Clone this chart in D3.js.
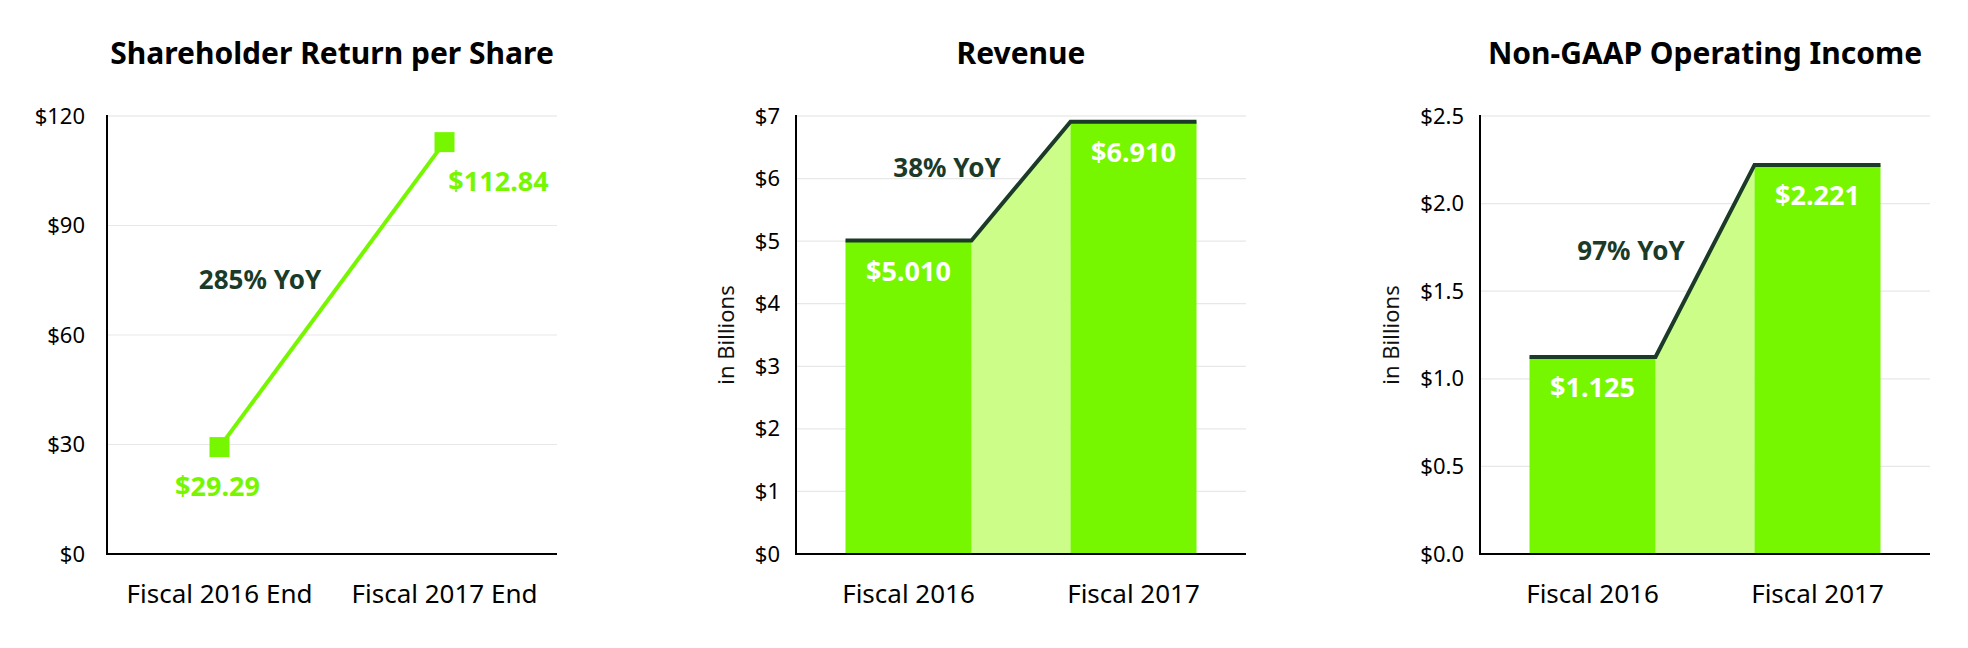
<!DOCTYPE html>
<html>
<head>
<meta charset="utf-8">
<script src="https://cdn.jsdelivr.net/npm/d3@7"></script>
<style>
  html, body { margin: 0; padding: 0; background: #fff; }
  svg { display: block; }
  text { font-family: "Noto Sans", "Open Sans", sans-serif; }
</style>
</head>
<body>
<svg id="chart" width="1968" height="648"></svg>
<script>
// ---- Data ----
const shareCategories = ["Fiscal 2016 End", "Fiscal 2017 End"];
const shareValues = [29.29, 112.84];
const shareTicks = [0, 30, 60, 90, 120];
const shareLabels = ["$29.29", "$112.84"];
const shareYoY = "285% YoY";

const revenueCategories = ["Fiscal 2016", "Fiscal 2017"];
const revenueValues = [5.010, 6.910];
const revenueTicks = [0, 1, 2, 3, 4, 5, 6, 7];
const revenueLabels = ["$5.010", "$6.910"];
const revenueYoY = "38% YoY";

const incomeCategories = ["Fiscal 2016", "Fiscal 2017"];
const incomeValues = [1.125, 2.221];
const incomeTicks = [0, 0.5, 1.0, 1.5, 2.0, 2.5];
const incomeLabels = ["$1.125", "$2.221"];
const incomeYoY = "97% YoY";

const titles = ["Shareholder Return per Share", "Revenue", "Non-GAAP Operating Income"];

// ---- Style ----
const GREEN = "#76f700";
const LIGHT = "#ccfd88";
const DARK = "#1b3a28";
const GRID = "#e8e8e8";

const svg = d3.select("#chart");
const plotTop = 116, plotBottom = 554;

function panel(opts) {
  const g = svg.append("g");
  const x = d3.scaleBand().domain(opts.categories).range([opts.x0, opts.x1])
    .paddingInner(0.44).paddingOuter(0.22);
  const y = d3.scaleLinear().domain([0, opts.max]).range([plotBottom, plotTop]);

  // grid
  g.append("g").selectAll("line").data(opts.ticks.slice(1)).join("line")
    .attr("x1", opts.x0).attr("x2", opts.x1)
    .attr("y1", d => y(d)).attr("y2", d => y(d))
    .attr("stroke", (d, i, a) => i === a.length - 1 ? "#f0f0f0" : GRID)
    .attr("stroke-width", (d, i, a) => i === a.length - 1 ? 2 : 1.2);

  // y axis
  const yAxis = d3.axisLeft(y).tickValues(opts.ticks).tickFormat(opts.fmt).tickSize(0).tickPadding(opts.tickPad);
  const ya = g.append("g").attr("transform", `translate(${opts.x0},0)`).call(yAxis);
  ya.select(".domain").remove();
  ya.selectAll("text").attr("font-size", 22).attr("fill", "#000").attr("font-family", '"Noto Sans", sans-serif');

  // x axis labels
  const xAxis = d3.axisBottom(x).tickSize(0).tickPadding(31);
  const xa = g.append("g").attr("transform", `translate(0,${plotBottom})`).call(xAxis);
  xa.select(".domain").remove();
  xa.selectAll("text").attr("font-size", 26).attr("fill", "#000").attr("font-family", '"Noto Sans", sans-serif');

  opts.draw(g, x, y);

  // axis lines
  g.append("line").attr("x1", opts.x0).attr("x2", opts.x0).attr("y1", plotTop - 1).attr("y2", plotBottom + 1)
    .attr("stroke", "#000").attr("stroke-width", 2);
  g.append("line").attr("x1", opts.x0 - 1).attr("x2", opts.x1).attr("y1", plotBottom).attr("y2", plotBottom)
    .attr("stroke", "#000").attr("stroke-width", 2);

  // title
  g.append("text").attr("x", (opts.x0 + opts.x1) / 2).attr("y", 64)
    .attr("text-anchor", "middle").attr("font-size", 30).attr("font-weight", "bold")
    .attr("fill", "#000").text(opts.title);

  if (opts.yTitle) {
    g.append("text").attr("transform", `translate(${opts.yTitleX},${(plotTop + plotBottom) / 2}) rotate(-90)`)
      .attr("text-anchor", "middle").attr("font-size", 22).attr("fill", "#111").text(opts.yTitle);
  }
  return { x, y };
}

// Panel 1: line
panel({
  categories: shareCategories, ticks: shareTicks, max: 120,
  x0: 107, x1: 557, tickPad: 22, title: titles[0],
  fmt: d => "$" + d,
  draw: (g, x, y) => {
    const cx = d => x(d) + x.bandwidth() / 2;
    const pts = shareCategories.map((c, i) => [cx(c), y(shareValues[i])]);
    g.append("path").attr("d", d3.line()(pts)).attr("fill", "none")
      .attr("stroke", GREEN).attr("stroke-width", 4);
    g.selectAll("rect.m").data(pts).join("rect").attr("class", "m")
      .attr("x", d => d[0] - 10).attr("y", d => d[1] - 10).attr("width", 20).attr("height", 20)
      .attr("fill", GREEN);
    const off = [[-2, 49], [54, 49]];
    g.selectAll("text.v").data(pts).join("text").attr("class", "v")
      .attr("x", (d, i) => d[0] + off[i][0]).attr("y", (d, i) => d[1] + off[i][1])
      .attr("text-anchor", "middle").attr("font-size", 27).attr("font-weight", "bold")
      .attr("fill", GREEN).text((d, i) => shareLabels[i]);
    g.append("text").attr("x", (pts[0][0] + pts[1][0]) / 2 - 72).attr("y", 289)
      .attr("text-anchor", "middle").attr("font-size", 26).attr("font-weight", "bold")
      .attr("fill", DARK).text(shareYoY);
  }
});

function stepBars(categories, values, labels, yoy, yoyPos) {
  return (g, x, y) => {
    const bw = x.bandwidth();
    const l0 = x(categories[0]), r0 = l0 + bw, l1 = x(categories[1]), r1 = l1 + bw;
    const y0 = y(values[0]), y1 = y(values[1]), yb = y(0);
    // connecting light area
    g.append("path").attr("d", d3.line()([[r0, yb], [r0, y0], [l1, y1], [l1, yb]]) + "Z")
      .attr("fill", LIGHT);
    // bars
    g.selectAll("rect.b").data(categories).join("rect").attr("class", "b")
      .attr("x", d => x(d)).attr("width", bw)
      .attr("y", (d, i) => y(values[i])).attr("height", (d, i) => yb - y(values[i]))
      .attr("fill", GREEN);
    // top step line
    g.append("path").attr("d", d3.line()([[l0, y0], [r0, y0], [l1, y1], [r1, y1]]))
      .attr("fill", "none").attr("stroke", DARK).attr("stroke-width", 4).attr("stroke-linejoin", "miter");
    // value labels
    g.selectAll("text.v").data(categories).join("text").attr("class", "v")
      .attr("x", d => x(d) + bw / 2).attr("y", (d, i) => y(values[i]) + 40)
      .attr("text-anchor", "middle").attr("font-size", 27).attr("font-weight", "bold")
      .attr("fill", "#fff").text((d, i) => labels[i]);
    g.append("text").attr("x", yoyPos[0]).attr("y", yoyPos[1])
      .attr("text-anchor", "middle").attr("font-size", 26).attr("font-weight", "bold")
      .attr("fill", DARK).text(yoy);
  };
}

// Panel 2: revenue
panel({
  categories: revenueCategories, ticks: revenueTicks, max: 7,
  x0: 796, x1: 1246, tickPad: 16, title: titles[1],
  fmt: d => "$" + d, yTitle: "in Billions", yTitleX: 734,
  draw: stepBars(revenueCategories, revenueValues, revenueLabels, revenueYoY, [947, 177])
});

// Panel 3: income
panel({
  categories: incomeCategories, ticks: incomeTicks, max: 2.5,
  x0: 1480, x1: 1930, tickPad: 16, title: titles[2],
  fmt: d => "$" + d3.format(".1f")(d), yTitle: "in Billions", yTitleX: 1399,
  draw: stepBars(incomeCategories, incomeValues, incomeLabels, incomeYoY, [1631, 260])
});
</script>
</body>
</html>
